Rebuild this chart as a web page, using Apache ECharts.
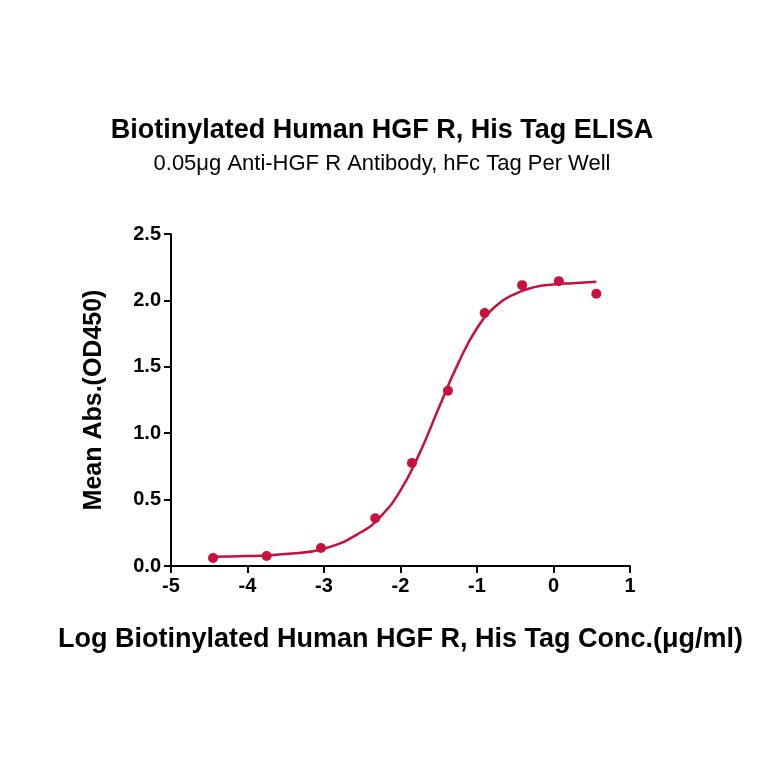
<!DOCTYPE html>
<html><head><meta charset="utf-8">
<script src="https://cdn.jsdelivr.net/npm/echarts@6/dist/echarts.min.js"></script>
<style>html,body{margin:0;background:#fff}#c{width:764px;height:764px}</style>
</head><body><div id="c"></div>
<script>
const pointX=[-4.45,-3.75,-3.04,-2.33,-1.85,-1.38,-0.90,-0.41,0.07,0.56];
const pointY=[0.06,0.075,0.135,0.36,0.775,1.32,1.905,2.115,2.145,2.05];
const curveX=[-4.45,-4,-3.5,-3,-2.5,-2.25,-2,-1.75,-1.5,-1.25,-1,-0.75,-0.5,-0.25,0,0.25,0.56];
const curveY=[0.07,0.075,0.09,0.13,0.26,0.38,0.57,0.85,1.19,1.52,1.79,1.96,2.05,2.10,2.12,2.13,2.14];
const col='#C8103E';
const F='Arial, Liberation Sans';
const ax={onZero:false,lineStyle:{color:'#000',width:2}};
echarts.init(document.getElementById('c')).setOption({
 animation:false,
 title:[{text:'Biotinylated Human HGF R, His Tag ELISA',left:'center',top:112,textStyle:{fontFamily:F,fontSize:27,fontWeight:'bold',color:'#000'}},
  {text:'0.05μg Anti-HGF R Antibody, hFc Tag Per Well',left:'center',top:148,textStyle:{fontFamily:F,fontSize:22,fontWeight:'normal',color:'#000'}}],
 grid:{left:171,right:134,top:234,bottom:198},
 xAxis:{type:'value',min:-5,max:1,interval:1,axisLine:ax,axisTick:{lineStyle:{color:'#000',width:2},length:7},splitLine:{show:false},
  axisLabel:{fontSize:20,fontWeight:'bold',color:'#000',fontFamily:F,margin:10},
  name:'Log Biotinylated Human HGF R, His Tag Conc.(μg/ml)',nameLocation:'middle',nameGap:60,
  nameTextStyle:{fontSize:27,fontWeight:'bold',color:'#000',fontFamily:F}},
 yAxis:{type:'value',min:0,max:2.5,interval:0.5,axisLine:{show:true,...ax},axisTick:{show:true,lineStyle:{color:'#000',width:2},length:7},splitLine:{show:false},
  axisLabel:{fontSize:20,fontWeight:'bold',color:'#000',fontFamily:F,margin:10,formatter:v=>v.toFixed(1)},
  name:'Mean Abs.(OD450)',nameLocation:'middle',nameGap:64,
  nameTextStyle:{fontSize:25,fontWeight:'bold',color:'#000',fontFamily:F}},
 series:[
  {type:'line',data:curveX.map((x,i)=>[x,curveY[i]]),smooth:true,symbol:'none',lineStyle:{color:col,width:2.5}},
  {type:'scatter',data:pointX.map((x,i)=>[x,pointY[i]]),symbolSize:10,itemStyle:{color:col,opacity:1}}
 ]
});
</script></body></html>
